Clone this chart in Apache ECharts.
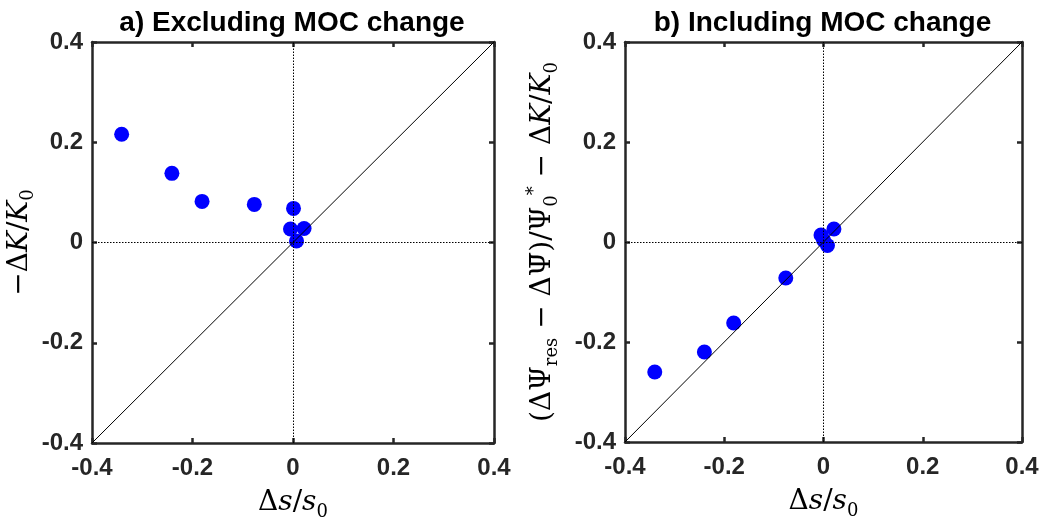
<!DOCTYPE html>
<html>
<head>
<meta charset="utf-8">
<script src="https://cdn.jsdelivr.net/npm/echarts@6/dist/echarts.min.js"></script>
<style>html,body{margin:0;padding:0;background:#fff}#c{width:1047px;height:525px}</style>
</head>
<body>
<div id="c"></div>
<script>
// Panel a: excluding MOC change
const dsA = [-0.341, -0.241, -0.181, -0.077, 0.001, -0.005, 0.022, 0.007];
const dkA = [0.216, 0.138, 0.082, 0.076, 0.068, 0.027, 0.028, 0.003];
// Panel b: including MOC change
const dsB = [-0.340, -0.240, -0.181, -0.076, 0.000, -0.005, 0.021, 0.008];
const dkB = [-0.260, -0.220, -0.162, -0.072, 0.004, 0.014, 0.026, -0.007];
const ticks = [-0.4, -0.2, 0, 0.2, 0.4];
const oneToOne = [[-0.4, -0.4], [0.4, 0.4]];
const titles = ['a) Excluding MOC change', 'b) Including MOC change'];

const AX = '#262626';
const serif = 'DejaVu Serif';
const rich = {
  n: {fontFamily: serif, fontSize: 28, color: '#000', lineHeight: 36},
  i: {fontFamily: serif, fontSize: 28, fontStyle: 'italic', color: '#000', lineHeight: 36},
  o: {fontFamily: serif, fontSize: 28, color: '#000', lineHeight: 36},
  sub: {fontFamily: serif, fontSize: 18, color: '#000', verticalAlign: 'bottom', lineHeight: 19},
  sup: {fontFamily: serif, fontSize: 18, color: '#000', verticalAlign: 'top', lineHeight: 19}
};
const xName = '{n|Δ}{i|s}{n|/}{i|s}{sub|0}';
const yNameA = '{n|−Δ}{i|K}{n|/}{i|K}{sub|0}';
const yNameB = '{n|(ΔΨ}{sub|res}{n| − Δ}{o|Ψ\u0304}{n|)/Ψ}{sub|0}{sup|*}{n| − Δ}{i|K}{n|/}{i|K}{sub|0}';

const grids = [
  {left: 92, top: 42, width: 402, height: 401, containLabel: false, outerBoundsMode: 'none'},
  {left: 625, top: 42, width: 397, height: 400, containLabel: false, outerBoundsMode: 'none'}
];

function fmt(v) { return v === 0 ? '0' : String(v); }
const tickFont = {fontFamily: 'Liberation Sans', fontWeight: 'bold', fontSize: 24, color: AX};

const xAxis = [], yAxis = [], series = [];
grids.forEach((g, k) => {
  const base = {type: 'value', min: -0.4, max: 0.4, interval: 0.2, gridIndex: k,
    splitLine: {show: false},
    axisLine: {show: true, onZero: false, lineStyle: {color: AX, width: 2.5}},
    axisTick: {show: true, inside: true, length: 5, lineStyle: {color: AX, width: 2.5}}};
  xAxis.push(Object.assign({}, base, {position: 'bottom',
    axisLabel: Object.assign({margin: 13, formatter: fmt}, tickFont),
    name: xName, nameLocation: 'middle', nameGap: 42, nameTextStyle: {rich: rich}}));
  xAxis.push(Object.assign({}, base, {position: 'top', axisLabel: {show: false}}));
  yAxis.push(Object.assign({}, base, {position: 'left',
    axisLabel: Object.assign({margin: 9, formatter: fmt}, tickFont),
    name: k === 0 ? yNameA : yNameB, nameLocation: 'middle', nameRotate: 90,
    nameGap: k === 0 ? 52 : 64, nameTextStyle: {rich: rich}}));
  yAxis.push(Object.assign({}, base, {position: 'right', axisLabel: {show: false}}));
  const xs = k === 0 ? dsA : dsB, ys = k === 0 ? dkA : dkB;
  series.push({type: 'scatter', xAxisIndex: 2 * k, yAxisIndex: 2 * k, symbol: 'circle', symbolSize: 15,
    itemStyle: {color: '#0000ff', opacity: 1}, data: xs.map((v, j) => [v, ys[j]]), z: 2, silent: true});
  series.push({type: 'line', xAxisIndex: 2 * k, yAxisIndex: 2 * k, data: oneToOne, symbol: 'none',
    lineStyle: {color: '#000', width: 1}, z: 3, silent: true,
    markLine: {silent: true, symbol: 'none', label: {show: false},
      lineStyle: {color: '#000', width: 1, type: [1.5, 1.5]},
      data: [{xAxis: 0}, {yAxis: 0}]}});
});

const chart = echarts.init(document.getElementById('c'), null, {renderer: 'canvas'});
chart.setOption({
  animation: false,
  backgroundColor: '#fff',
  title: titles.map((t, k) => ({text: t, left: grids[k].left + grids[k].width / 2 - 6, top: 4,
    textAlign: 'center',
    textStyle: {fontFamily: 'Liberation Sans', fontWeight: 'bold', fontSize: 28, color: '#000'}})),
  grid: grids,
  xAxis: xAxis,
  yAxis: yAxis,
  series: series
});
</script>
</body>
</html>
